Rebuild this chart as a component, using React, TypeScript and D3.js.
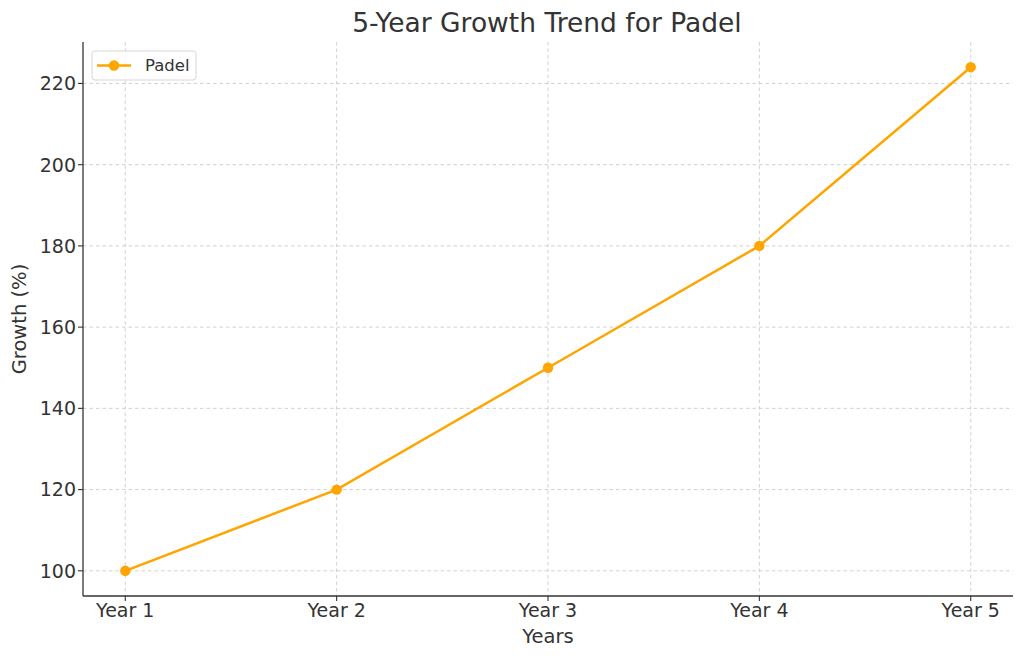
import React from "react";
import * as d3 from "d3";

// chart data
const years = ["Year 1", "Year 2", "Year 3", "Year 4", "Year 5"];
const growth = [100, 120, 150, 180, 224];
const yTicks = [100, 120, 140, 160, 180, 200, 220];

const W = 1024;
const H = 660;
const margin = { top: 42, right: 11, bottom: 64, left: 83 };
const font = "'DejaVu Sans', sans-serif";
const textColor = "#333333";
const lineColor = "#FFA500";

const App: React.FC = () => {
  const plotW = W - margin.left - margin.right;
  const plotH = H - margin.top - margin.bottom;

  // matplotlib-like 5% padding on both axes
  const x = d3.scalePoint<string>().domain(years).range([0, plotW]).padding(0.2);
  const yMin = d3.min(growth) as number;
  const yMax = d3.max(growth) as number;
  const pad = (yMax - yMin) * 0.05;
  const y = d3.scaleLinear().domain([yMin - pad, yMax + pad]).range([plotH, 0]);

  const line = d3
    .line<number>()
    .x((_, i) => x(years[i]) as number)
    .y(d => y(d));

  return (
    <svg width={W} height={H} style={{ display: "block", position: "absolute", left: 0, top: 0 }}>
      <rect width={W} height={H} fill="#ffffff" />
      <text x={547} y={32} textAnchor="middle" fontFamily={font} fontSize={26.5} fill={textColor}>
        5-Year Growth Trend for Padel
      </text>
      <g transform={`translate(${margin.left},${margin.top})`}>
        {/* grid */}
        {yTicks.map(t => (
          <line key={"gy" + t} x1={0} x2={plotW} y1={y(t)} y2={y(t)} stroke="#cccccc" strokeWidth={0.9} strokeDasharray="3.5,3" />
        ))}
        {years.map(c => (
          <line key={"gx" + c} x1={x(c)} x2={x(c)} y1={0} y2={plotH} stroke="#cccccc" strokeWidth={0.9} strokeDasharray="3.5,3" />
        ))}

        {/* axes */}
        <line x1={0} x2={0} y1={0} y2={plotH} stroke={textColor} strokeWidth={1.3} />
        <line x1={0} x2={plotW} y1={plotH} y2={plotH} stroke={textColor} strokeWidth={1.3} />
        {yTicks.map(t => (
          <g key={"ty" + t} transform={`translate(0,${y(t)})`}>
            <line x1={-5} x2={0} stroke={textColor} strokeWidth={1.1} />
            <text x={-7} dy="0.36em" textAnchor="end" fontFamily={font} fontSize={19} fill={textColor}>
              {t}
            </text>
          </g>
        ))}
        {years.map(c => (
          <g key={"tx" + c} transform={`translate(${x(c)},${plotH})`}>
            <line y1={0} y2={5} stroke={textColor} strokeWidth={1.1} />
            <text y={21} textAnchor="middle" fontFamily={font} fontSize={19} fill={textColor}>
              {c}
            </text>
          </g>
        ))}
        <text x={plotW / 2} y={plotH + 47} textAnchor="middle" fontFamily={font} fontSize={19.5} fill={textColor}>
          Years
        </text>
        <text
          transform={`translate(${-57},${plotH / 2}) rotate(-90)`}
          textAnchor="middle"
          fontFamily={font}
          fontSize={19.5}
          fill={textColor}
        >
          Growth (%)
        </text>

        {/* series */}
        <path d={line(growth) as string} fill="none" stroke={lineColor} strokeWidth={2.5} />
        {growth.map((v, i) => (
          <circle key={"p" + i} cx={x(years[i])} cy={y(v)} r={5.2} fill={lineColor} />
        ))}

        {/* legend */}
        <g transform="translate(9,9)">
          <rect width={104} height={29} rx={3} fill="#ffffff" fillOpacity={0.8} stroke="#d6d6d6" strokeWidth={1} />
          <line x1={5} x2={39} y1={14.5} y2={14.5} stroke={lineColor} strokeWidth={2.5} />
          <circle cx={22} cy={14.5} r={5.2} fill={lineColor} />
          <text x={53} y={14.5} dy="0.35em" fontFamily={font} fontSize={16.5} fill={textColor}>
            Padel
          </text>
        </g>
      </g>
    </svg>
  );
};

export default App;
